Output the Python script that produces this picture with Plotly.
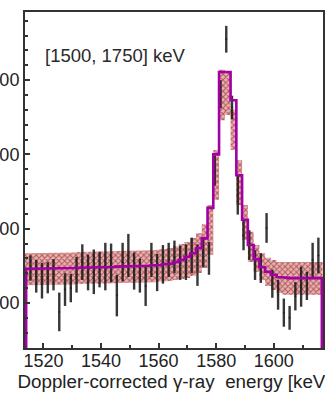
import plotly.graph_objects as go

# ---------------- data ----------------
data_energy = [1515.5, 1517.5, 1519.5, 1521.5, 1523.5, 1525.5, 1527.5, 1529.5, 1531.5, 1533.5,
               1535.5, 1537.5, 1539.5, 1541.5, 1543.5, 1545.5, 1547.5, 1549.5, 1551.5, 1553.5,
               1555.5, 1557.5, 1559.5, 1561.5, 1563.5, 1565.5, 1567.5, 1569.5, 1571.5, 1573.5,
               1575.5, 1577.5, 1579.5, 1581.5, 1583.5, 1585.5, 1587.5, 1589.5, 1591.5, 1593.5,
               1595.5, 1597.5, 1599.5, 1601.5, 1603.5, 1605.5, 1607.5, 1609.5, 1611.5, 1613.5,
               1615.5]
data_counts = [147, 136, 130, 134, 138, 88, 118, 120, 138, 155,
               141, 142, 145, 149, 154, 110, 155, 164, 143, 137,
               123, 158, 141, 152, 158, 162, 154, 155, 164, 151,
               168, 160, 278, 381, 455, 363, 246, 191, 178, 151,
               147, 201, 126, 111, 87, 80, 109, 122, 123, 158,
               164]
data_err = [17, 22, 24, 21, 21, 26, 22, 19, 24, 24,
            24, 30, 24, 32, 26, 28, 26, 29, 25, 23,
            27, 23, 25, 26, 23, 22, 23, 24, 24, 28,
            20, 22, 20, 19, 18, 16, 27, 20, 20, 20,
            20, 20, 19, 20, 19, 16, 19, 27, 19, 23,
            24]

fit_energy = [1514, 1516, 1518, 1520, 1522, 1524, 1526, 1528, 1530, 1532,
              1534, 1536, 1538, 1540, 1542, 1544, 1546, 1548, 1550, 1552,
              1554, 1556, 1558, 1560, 1562, 1564, 1566, 1568, 1570, 1572,
              1574, 1576, 1578, 1580, 1582, 1584, 1586, 1588, 1590, 1592,
              1594, 1596, 1598, 1600, 1602, 1604, 1606, 1608, 1610, 1612,
              1614, 1616]
fit_counts = [146, 146, 146, 146, 146.5, 146.5, 147, 147, 147, 147.5,
              147.5, 148, 148, 148, 148.5, 148.5, 149, 149, 149, 149.5,
              150, 150, 150.5, 151, 152, 153, 155, 158, 162, 167,
              174, 187, 228, 300, 411, 411, 373, 272, 212, 178,
              159, 148, 142, 138, 135, 134, 133.5, 133.5, 133.5, 133.5,
              133.5, 133.5]
band_high = [167, 167, 167, 167, 167.5, 167.5, 168, 168, 168, 168.5,
             168.5, 169, 169, 169, 169.5, 169.5, 170, 170, 170, 170.5,
             171, 171, 171, 171.5, 172.5, 174, 176.5, 179.5, 182, 187.5,
             194, 206, 232, 306, 414, 411, 360, 292, 232, 196,
             178, 167, 161, 158, 155, 155, 155, 155, 155, 155,
             155, 155]
band_low = [124, 124, 124, 124, 124.5, 124.5, 125, 125, 125, 125.5,
            125.5, 126, 126, 126, 126.5, 126.5, 127, 127, 127, 127.5,
            127.5, 128, 128, 128.5, 129.5, 129.5, 131, 132.3, 133.6, 136.3,
            140.4, 147, 165, 239, 346, 353, 306, 232, 185, 155,
            142, 131, 123, 117.5, 113.5, 111, 111, 111, 111, 111,
            111, 111]

y_tick_values = [100, 200, 300, 400]
y_tick_text = ["100", "200", "300", "400"]
x_tick_values = [1520, 1540, 1560, 1580, 1600]
x_tick_text = ["1520", "1540", "1560", "1580", "1600"]

X_RANGE = [1513.6, 1617.1]
Y_RANGE = [39.4, 491.7]
HALF_BIN = 1.0


def steps(centers, values, lo, hi, base=None):
    xs, ys = [], []
    for c, v in zip(centers, values):
        left = max(c - HALF_BIN, lo)
        right = min(c + HALF_BIN, hi)
        if not xs and base is not None:
            xs.append(left)
            ys.append(base)
        xs += [left, right]
        ys += [v, v]
    if base is not None:
        xs.append(xs[-1])
        ys.append(base)
    return xs, ys


lo_edge = X_RANGE[0] + 0.4
hi_edge = X_RANGE[1] - 0.4

bx_lo, by_lo = steps(fit_energy, band_low, X_RANGE[0], X_RANGE[1])
bx_hi, by_hi = steps(fit_energy, band_high, X_RANGE[0], X_RANGE[1])
fx, fy = steps(fit_energy, fit_counts, lo_edge, hi_edge, base=0)

fig = go.Figure()

fig.add_trace(go.Scatter(x=bx_lo, y=by_lo, mode="lines", line=dict(width=0),
                         hoverinfo="skip", showlegend=False))
fig.add_trace(go.Scatter(x=bx_hi, y=by_hi, mode="lines", line=dict(width=0),
                         fill="tonexty", fillcolor="rgba(218,128,128,0.6)",
                         fillpattern=dict(shape="x", fgcolor="#7a0000", size=4,
                                          solidity=0.45, fillmode="overlay"),
                         hoverinfo="skip", showlegend=False))

fig.add_trace(go.Scatter(x=data_energy, y=data_counts, mode="markers",
                         marker=dict(size=2, color="#222222"),
                         error_y=dict(type="data", array=data_err, visible=True,
                                      width=0, thickness=2.4, color="rgba(20,20,20,0.85)"),
                         showlegend=False))

fig.add_trace(go.Scatter(x=fx, y=fy, mode="lines",
                         line=dict(color="#a000a4", width=2.6),
                         showlegend=False))

fig.add_annotation(text="[1500, 1750] keV", xref="paper", yref="paper",
                   x=0.06, y=0.872, xanchor="left", yanchor="middle",
                   showarrow=False, font=dict(size=18.5, color="#2a2a2a",
                                              family="Liberation Sans, Arial, sans-serif"))

axis_common = dict(showgrid=False, zeroline=False, showline=True, mirror=True,
                   linecolor="#333333", linewidth=2, ticks="inside",
                   tickcolor="#333333", tickwidth=1.5, ticklen=5)

fig.update_xaxes(range=X_RANGE, tickvals=x_tick_values, ticktext=x_tick_text,
                 minor=dict(ticks="inside", dtick=10, ticklen=3, tickcolor="#333333"),
                 tickfont=dict(size=18, color="#222222"),
                 ticklabelstandoff=-5,
                 title=dict(text="Doppler-corrected γ-ray\u00a0 energy [keV]",
                            font=dict(size=18.8, color="#222222"), standoff=3),
                 **axis_common)
fig.update_yaxes(range=Y_RANGE, tickvals=y_tick_values, ticktext=y_tick_text,
                 minor=dict(ticks="inside", dtick=20, ticklen=3, tickcolor="#333333"),
                 tickfont=dict(size=18, color="#222222"),
                 **axis_common)

fig.update_layout(width=325, height=393,
                  margin=dict(l=25, r=2, t=12, b=45, autoexpand=False),
                  paper_bgcolor="white", plot_bgcolor="white",
                  font=dict(family="Liberation Sans, Arial, sans-serif"))

fig.write_html("out.html")
